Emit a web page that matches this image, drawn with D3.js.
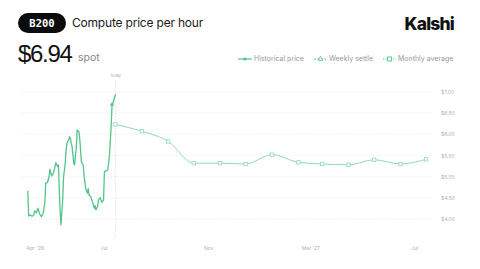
<!DOCTYPE html>
<html>
<head>
<meta charset="utf-8">
<script src="https://cdn.jsdelivr.net/npm/d3@7"></script>
<style>
  html, body { margin: 0; padding: 0; background: #fff; }
  svg { display: block; font-family: Inter, "Liberation Sans", sans-serif; }
</style>
</head>
<body>
<svg id="chart"></svg>
<script>
// Chart size
const W = 480, H = 269;

// Historical spot price (daily-ish readings)
const histDates = ["2026-04-03","2026-04-04","2026-04-06","2026-04-08","2026-04-10","2026-04-11","2026-04-13","2026-04-15",
  "2026-04-17","2026-04-19","2026-04-21","2026-04-23","2026-04-24","2026-04-26","2026-04-28","2026-04-29",
  "2026-05-01","2026-05-03","2026-05-05","2026-05-06","2026-05-08","2026-05-09","2026-05-10","2026-05-11",
  "2026-05-12","2026-05-13","2026-05-14","2026-05-15","2026-05-17","2026-05-18","2026-05-19","2026-05-21",
  "2026-05-22","2026-05-23","2026-05-24","2026-05-25","2026-05-27","2026-05-28","2026-05-29","2026-05-30",
  "2026-05-31","2026-06-02","2026-06-03","2026-06-05","2026-06-07","2026-06-08","2026-06-10","2026-06-12",
  "2026-06-13","2026-06-14","2026-06-16","2026-06-18","2026-06-20","2026-06-21","2026-06-22","2026-06-24",
  "2026-06-25","2026-06-27","2026-06-29","2026-07-01","2026-07-02","2026-07-04","2026-07-06","2026-07-08",
  "2026-07-10","2026-07-11","2026-07-12","2026-07-13","2026-07-15"];
const histPrice = [4.67,4.08,4.10,4.07,4.10,4.20,4.15,4.26,
  4.12,4.06,4.14,4.38,4.85,4.86,5.00,5.18,
  5.02,5.08,5.24,5.33,5.24,5.28,4.69,4.17,
  3.87,4.17,4.45,5.00,5.32,5.63,5.79,5.86,
  5.94,5.91,5.79,5.71,5.32,5.28,5.51,5.67,
  6.10,6.06,5.90,5.35,5.28,5.04,4.73,4.61,
  4.72,4.57,4.53,4.41,4.26,4.32,4.22,4.30,
  4.45,4.51,4.40,4.45,5.12,5.14,5.16,5.51,
  6.22,6.69,6.73,6.80,6.94];

// Weekly settle
const weeklyDates = ["2026-07-11"];
const weeklySettle = [6.70];

// Monthly average forecast
const monthDates = ["2026-07-15","2026-08-15","2026-09-15","2026-10-15","2026-11-15","2026-12-15","2027-01-15",
  "2027-02-15","2027-03-15","2027-04-15","2027-05-15","2027-06-15","2027-07-15"];
const monthAvg = [6.23,6.07,5.83,5.32,5.32,5.30,5.52,5.34,5.30,5.28,5.40,5.30,5.41];

// Axis ticks
const yTicks = [4.0,4.5,5.0,5.5,6.0,6.5,7.0];
const xTickDates = ["2026-04-01","2026-07-01","2026-11-01","2027-03-01","2027-07-01"];
const xTickLabels = ["Apr '26","Jul","Nov","Mar '27","Jul"];
const todayDate = "2026-07-15";

const parse = d3.timeParse("%Y-%m-%d");
const GREEN = "#52c58a";
const LIGHT = "#8fdab3";

const svg = d3.select("#chart").attr("width", W).attr("height", H);

// Scales
const x = d3.scaleTime()
  .domain([parse("2026-03-26"), parse("2027-07-22")])
  .range([21, 432]);
const y = d3.scaleLinear().domain([4, 7]).range([219.3, 91.7]);

// Header: badge
svg.append("rect").attr("x", 18).attr("y", 13).attr("width", 48).attr("height", 20)
  .attr("rx", 10).attr("fill", "#0b0b0b");
svg.append("text").attr("x", 42).attr("y", 26.5).attr("text-anchor", "middle")
  .attr("fill", "#fff").attr("font-family", "'DejaVu Sans Mono', monospace")
  .attr("font-weight", 700).attr("font-size", 10.5).text("B200");
svg.append("text").attr("x", 72).attr("y", 27).attr("fill", "#1a1a1a")
  .attr("font-size", 12).attr("letter-spacing", -0.2).text("Compute price per hour");

// Big price
svg.append("text").attr("x", 18).attr("y", 62).attr("fill", "#111")
  .attr("font-family", "'Liberation Sans', Arial, sans-serif")
  .attr("font-size", 24).attr("letter-spacing", -1.3).text("$6.94");
svg.append("text").attr("x", 78).attr("y", 61).attr("fill", "#888")
  .attr("font-size", 10.5).text("spot");

// Brand
svg.append("text").attr("x", 454).attr("y", 30).attr("text-anchor", "end").attr("fill", "#111")
  .attr("font-size", 17.5).attr("font-weight", 800).attr("letter-spacing", -0.8).text("Kalshi");

// Legend
const lg = svg.append("g").attr("font-size", 7).attr("fill", "#999");
const legendY = 59;
lg.append("line").attr("x1", 238).attr("x2", 252).attr("y1", legendY).attr("y2", legendY)
  .attr("stroke", GREEN).attr("stroke-width", 1.2);
lg.append("circle").attr("cx", 245).attr("cy", legendY).attr("r", 1.6).attr("fill", GREEN);
lg.append("text").attr("x", 254).attr("y", legendY + 2.4).text("Historical price");

lg.append("line").attr("x1", 314).attr("x2", 327).attr("y1", legendY).attr("y2", legendY)
  .attr("stroke", GREEN).attr("stroke-width", 1).attr("stroke-dasharray", "2,1.5");
lg.append("path").attr("d", d3.symbol(d3.symbolTriangle, 9)).attr("transform", `translate(320.5,${legendY})`)
  .attr("fill", "#fff").attr("stroke", GREEN).attr("stroke-width", 0.9);
lg.append("text").attr("x", 329).attr("y", legendY + 2.4).text("Weekly settle");

lg.append("line").attr("x1", 383).attr("x2", 396).attr("y1", legendY).attr("y2", legendY)
  .attr("stroke", GREEN).attr("stroke-width", 1).attr("stroke-dasharray", "1,1.5");
lg.append("rect").attr("x", 387.5).attr("y", legendY - 2).attr("width", 4).attr("height", 4)
  .attr("fill", "#fff").attr("stroke", GREEN).attr("stroke-width", 0.9);
lg.append("text").attr("x", 398).attr("y", legendY + 2.4).text("Monthly average");

// Gridlines
svg.append("g").selectAll("line").data(yTicks).enter().append("line")
  .attr("x1", 21).attr("x2", 432)
  .attr("y1", d => y(d)).attr("y2", d => y(d))
  .attr("stroke", "#e4e4e4").attr("stroke-width", 0.7).attr("stroke-dasharray", "1,1.5");

// Y axis on the right
const yAxis = svg.append("g").attr("transform", "translate(436,0)")
  .call(d3.axisRight(y).tickValues(yTicks).tickSize(0).tickPadding(5).tickFormat(d3.format("$.2f")));
yAxis.select(".domain").remove();
yAxis.selectAll("text").attr("font-size", 5).attr("fill", "#b0b0b0").attr("font-family", "Inter, sans-serif");

// X axis
const xAxis = svg.append("g").attr("transform", "translate(0,241)")
  .call(d3.axisBottom(x).tickValues(xTickDates.map(parse)).tickSize(0).tickPadding(5)
    .tickFormat((d, i) => xTickLabels[i]));
xAxis.select(".domain").remove();
xAxis.selectAll("text").attr("font-size", 5).attr("fill", "#b0b0b0").attr("font-family", "Inter, sans-serif");
xAxis.select(".tick text").attr("text-anchor", "start");

// Today marker
const tx = x(parse(todayDate));
svg.append("line").attr("x1", tx).attr("x2", tx).attr("y1", 80).attr("y2", 238)
  .attr("stroke", "#dcdcdc").attr("stroke-width", 0.7).attr("stroke-dasharray", "1.5,1.5");
svg.append("text").attr("x", tx).attr("y", 76.5).attr("text-anchor", "middle")
  .attr("font-size", 3.8).attr("fill", "#aaa").text("Today");

// Monthly average line
const monthData = monthDates.map((d, i) => ({ date: parse(d), v: monthAvg[i] }));
svg.append("path").datum(monthData)
  .attr("fill", "none").attr("stroke", LIGHT).attr("stroke-width", 1)
  .attr("d", d3.line().x(d => x(d.date)).y(d => y(d.v)).curve(d3.curveMonotoneX));
svg.append("g").selectAll("rect").data(monthData).enter().append("rect")
  .attr("x", d => x(d.date) - 1.7).attr("y", d => y(d.v) - 1.7)
  .attr("width", 3.4).attr("height", 3.4)
  .attr("fill", "#fff").attr("stroke", LIGHT).attr("stroke-width", 0.8);

// Historical price line
const histData = histDates.map((d, i) => ({ date: parse(d), v: histPrice[i] }));
svg.append("path").datum(histData)
  .attr("fill", "none").attr("stroke", GREEN).attr("stroke-width", 1.3)
  .attr("stroke-linejoin", "round")
  .attr("d", d3.line().x(d => x(d.date)).y(d => y(d.v)));

// Weekly settle markers
svg.append("g").selectAll("path").data(weeklyDates.map((d, i) => ({ date: parse(d), v: weeklySettle[i] })))
  .enter().append("path")
  .attr("d", d3.symbol(d3.symbolTriangle, 5))
  .attr("transform", d => `translate(${x(d.date)},${y(d.v)})`)
  .attr("fill", GREEN).attr("stroke", GREEN).attr("stroke-width", 0.6);
</script>
</body>
</html>
